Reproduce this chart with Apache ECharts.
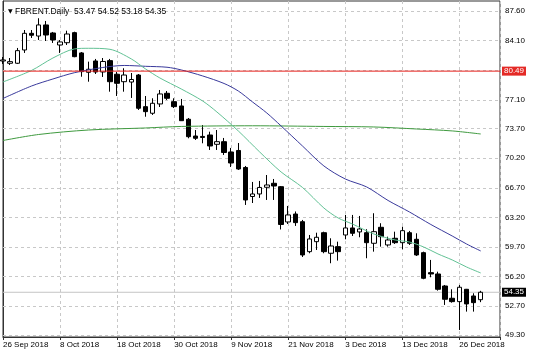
<!DOCTYPE html>
<html><head><meta charset="utf-8">
<script src="https://cdn.jsdelivr.net/npm/echarts@6/dist/echarts.min.js"></script>
<style>html,body{margin:0;padding:0;background:#fff}#c{width:536px;height:356px}</style>
</head><body><div id="c"></div>
<script>
const symbolName = 'FBRENT.Daily';
const dates = ['2018-09-26','2018-09-27','2018-09-28',
'2018-10-01','2018-10-02','2018-10-03','2018-10-04','2018-10-05','2018-10-08','2018-10-09','2018-10-10','2018-10-11','2018-10-12',
'2018-10-15','2018-10-16','2018-10-17','2018-10-18','2018-10-19','2018-10-22','2018-10-23','2018-10-24','2018-10-25','2018-10-26',
'2018-10-29','2018-10-30','2018-10-31','2018-11-01','2018-11-02','2018-11-05','2018-11-06','2018-11-07','2018-11-08','2018-11-09',
'2018-11-12','2018-11-13','2018-11-14','2018-11-15','2018-11-16','2018-11-19','2018-11-20','2018-11-21','2018-11-22','2018-11-23',
'2018-11-26','2018-11-27','2018-11-28','2018-11-29','2018-11-30','2018-12-03','2018-12-04','2018-12-05','2018-12-06','2018-12-07',
'2018-12-10','2018-12-11','2018-12-12','2018-12-13','2018-12-14','2018-12-17','2018-12-18','2018-12-19','2018-12-20','2018-12-21',
'2018-12-24','2018-12-26','2018-12-27','2018-12-28','2018-12-31'];
const xTickLabels = ['26 Sep 2018','8 Oct 2018','18 Oct 2018','30 Oct 2018','9 Nov 2018','21 Nov 2018','3 Dec 2018','13 Dec 2018','26 Dec 2018'];
const yTickLabels = ['49.30','52.70','56.20','59.70','63.20','66.70','70.20','73.70','77.10','80.60','84.10','87.60'];
const openP  = [81.69,81.42,81.42,82.99,84.96,84.64,85.95,85.00,83.58,83.85,85.04,82.64,80.35,81.69,80.39,81.73,80.12,79.24,79.20,80.03,76.29,75.51,76.61,77.87,76.88,76.37,74.80,72.82,72.77,72.94,71.84,72.15,70.93,71.11,69.10,65.67,65.97,66.76,67.23,66.83,62.66,63.60,62.69,59.15,60.33,61.39,58.96,59.74,61.12,61.95,61.48,61.39,60.14,62.03,59.94,60.73,60.21,61.39,60.61,59.03,56.67,56.51,55.09,53.64,53.24,54.70,53.91,53.47];
const highP  = [82.16,82.04,83.23,85.35,85.35,86.74,86.42,85.12,84.17,85.27,85.15,82.75,81.61,81.93,82.04,81.93,80.39,80.83,80.27,80.15,77.55,77.28,78.26,78.14,77.28,77.20,74.95,73.53,74.12,73.33,73.53,72.59,71.41,71.99,69.28,67.39,67.51,68.21,67.74,66.91,64.55,63.90,62.90,61.12,61.39,61.51,60.73,60.33,63.49,63.49,63.37,61.80,63.69,62.51,60.92,61.51,62.10,61.60,61.32,59.15,58.17,56.78,55.21,54.70,55.21,54.74,54.23,54.52];
const lowP   = [81.34,81.22,81.34,82.64,84.41,84.17,84.05,83.82,82.64,83.58,82.13,79.83,79.24,80.15,79.80,78.06,77.55,78.06,77.32,75.90,75.10,75.31,76.25,77.08,76.13,74.60,72.55,72.35,71.96,71.17,71.17,70.58,69.16,68.81,64.67,64.90,65.50,65.26,65.26,61.77,62.42,62.19,58.52,58.96,59.35,58.96,57.78,58.09,60.61,61.00,60.85,58.37,59.15,59.74,59.74,60.06,59.43,59.94,58.64,55.89,56.12,54.54,52.85,53.12,49.89,52.06,52.06,53.18];
const closeP = [81.81,81.61,82.91,84.96,84.73,85.95,84.76,84.17,83.94,84.88,82.20,80.43,80.71,80.39,81.63,79.24,79.05,80.03,79.50,76.10,75.70,76.69,77.79,77.28,76.29,74.63,72.74,72.55,72.65,71.64,72.15,70.87,69.63,68.92,65.26,65.97,66.74,67.03,66.91,62.36,63.49,62.58,58.76,60.65,60.85,59.15,59.82,59.15,61.95,61.32,61.83,60.21,61.51,60.92,60.53,60.21,61.63,60.14,58.76,56.00,56.51,54.70,53.52,53.24,54.94,52.97,53.12,54.35];
const maFastIdx = [0,4,7,10,12,15,18,20,22,25,28,30,33,36,39,42,45,47,49,52,55,57,59,61,63,65,67];
const maFast    = [79.21,80.57,82.04,83.11,83.19,83.07,81.93,80.74,79.68,78.38,76.96,75.66,73.42,70.93,68.57,66.74,64.31,63.13,62.42,61.24,60.53,60.29,59.70,58.88,58.17,57.34,56.63];
const maMidIdx  = [0,4,7,10,14,17,20,23,25,28,31,33,35,37,39,42,45,48,51,54,57,60,63,65,67];
const maMid     = [77.26,78.73,79.56,80.30,80.92,81.16,81.06,80.95,80.63,79.92,79.03,78.14,76.84,75.54,74.01,71.64,69.28,67.74,66.80,65.20,63.84,62.36,61.00,60.06,59.23];
const maSlowIdx = [0,5,12,20,25,35,45,52,58,63,67];
const maSlow    = [72.29,73.00,73.53,73.77,73.95,74.03,73.95,73.89,73.65,73.42,73.06];
const redLevel = 80.49;

const FONT = '"Liberation Sans", Arial, sans-serif';
const X_MAX = 69.7;
const yTicks = yTickLabels.map(Number);
const last = dates.length - 1;
const candles = dates.map((d, i) => [i, openP[i], closeP[i], lowP[i], highP[i]]);
const pairs = (idx, vals) => idx.map((x, k) => [x, vals[k]]);
const titleText = '{t|▼} ' + symbolName + '  ' +
  [openP[last], highP[last], lowP[last], closeP[last]].map(v => v.toFixed(2)).join(' ');
const levelSeries = (level, lineColor, boxColor, z) => ({
  type: 'line', data: [[0, level], [X_MAX, level]], showSymbol: false, silent: true, z: z, clip: false,
  lineStyle: {color: lineColor, width: 1, type: 'solid'}, itemStyle: {color: lineColor},
  endLabel: {show: true, formatter: level.toFixed(2), color: '#fff', backgroundColor: boxColor,
    padding: [1, 2, 0, 2], distance: 2, fontSize: 8, fontFamily: FONT}
});

const chart = echarts.init(document.getElementById('c'), null, {renderer: 'canvas'});
chart.setOption({
  animation: false,
  backgroundColor: '#fff',
  title: {
    text: titleText, left: 3, top: 2,
    textStyle: {fontFamily: FONT, fontSize: 8.5, fontWeight: 'normal', color: '#000',
      rich: {t: {fontSize: 6, color: '#000', fontFamily: '"DejaVu Sans"'}}}
  },
  grid: {left: 3, right: 36, top: 1, bottom: 19, show: true, borderColor: '#333', borderWidth: 1, backgroundColor: '#fff'},
  xAxis: {
    type: 'value', min: 0, max: X_MAX, interval: 8,
    axisLine: {show: true, lineStyle: {color: '#333'}},
    axisTick: {show: true, length: 3, lineStyle: {color: '#333'}},
    axisLabel: {align: 'left', margin: 4, fontFamily: FONT, fontSize: 8, color: '#000', showMaxLabel: true, showMinLabel: true,
      formatter: v => (v % 8 === 0 && xTickLabels[v / 8]) ? xTickLabels[v / 8] : ''},
    splitLine: {show: true, lineStyle: {color: '#c8c8c8', type: [3, 3], width: 1}}
  },
  yAxis: {
    type: 'value', position: 'right', min: 49.06, max: 88.78,
    axisLine: {show: true, lineStyle: {color: '#333'}},
    axisTick: {show: true, length: 3, customValues: yTicks, lineStyle: {color: '#333'}},
    axisLabel: {customValues: yTicks.filter(v => v !== 80.6), margin: 5, fontFamily: FONT, fontSize: 8, color: '#000',
      formatter: v => v.toFixed(2)},
    splitLine: {show: false}
  },
  series: [
    {
      type: 'line', data: pairs(maSlowIdx, maSlow), showSymbol: false, smooth: 0.3, z: 3,
      lineStyle: {color: '#3f9a3f', width: 1}, itemStyle: {color: '#3f9a3f'}, silent: true,
      markLine: {silent: true, symbol: 'none', z: 1, label: {show: false},
        lineStyle: {color: '#c8c8c8', type: [3, 3], width: 1},
        data: yTicks.map(v => ({yAxis: v}))}
    },
    levelSeries(closeP[last], '#c4c4c4', '#000', 1),
    {
      type: 'candlestick', data: candles, barWidth: 5, z: 2, silent: true,
      itemStyle: {color: '#fff', color0: '#000', borderColor: '#000', borderColor0: '#000', borderWidth: 1}
    },
    {
      type: 'line', data: pairs(maMidIdx, maMid), showSymbol: false, smooth: 0.3, z: 3, silent: true,
      lineStyle: {color: '#3a3a9c', width: 1}, itemStyle: {color: '#3a3a9c'}
    },
    {
      type: 'line', data: pairs(maFastIdx, maFast), showSymbol: false, smooth: 0.3, z: 3, silent: true,
      lineStyle: {color: '#62c295', width: 1}, itemStyle: {color: '#62c295'}
    },
    levelSeries(redLevel, '#e8201c', '#e42a26', 4)
  ]
});
</script></body></html>
